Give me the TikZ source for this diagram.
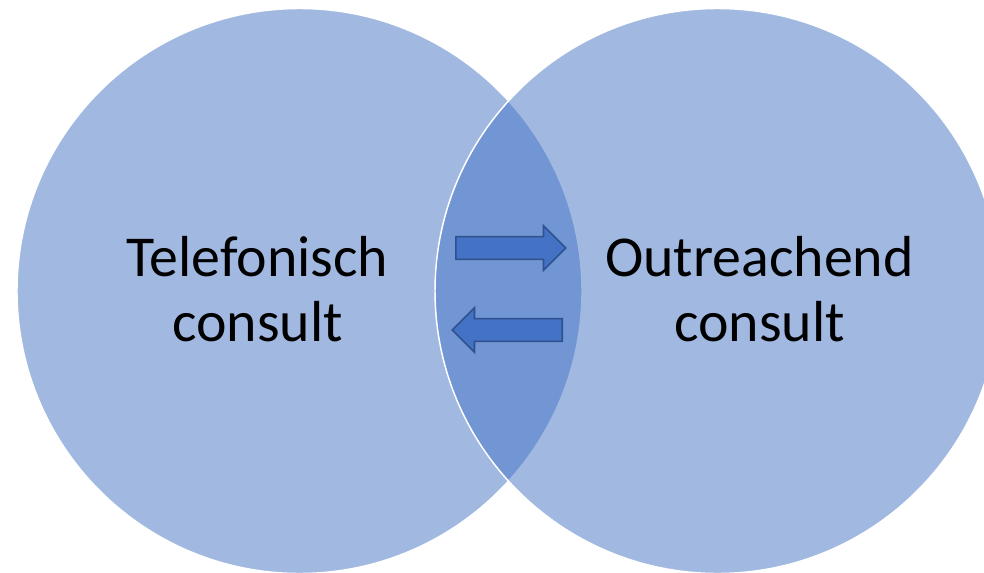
\documentclass[tikz,border=0pt]{standalone}
\usepackage{fontspec}
\setmainfont{Carlito}
\usetikzlibrary{shapes.arrows}
\definecolor{vennblue}{HTML}{4472C4}
\definecolor{arrowedge}{HTML}{2F528F}

\begin{document}
\begin{tikzpicture}[x=0.75pt,y=0.75pt,
	venn/.style={shape=circle,draw=white,line width=1.1pt,fill=vennblue,fill opacity=0.5,minimum size=423.75pt,inner sep=0pt},
	venntext/.style={align=center,font=\fontsize{43.4}{48.75}\selectfont,text=black},
	swaparrow/.style={shape=single arrow,draw=arrowedge,line width=1.2pt,fill=vennblue,inner xsep=0pt,inner ysep=7.9pt,minimum height=82.5pt,minimum width=0pt,single arrow head extend=8.25pt,anchor=tail}]
	\useasboundingbox (0,0) rectangle (984,572);

	\node[venn] (tel) at (299.5,281) {};
	\node[venn] (out) at (717.5,281) {};

	\node[swaparrow] (naar) at (455,324) {};
	\node[swaparrow,shape border rotate=180] (terug) at (563,242) {};

	\node[venntext] (teltext) at (257.5,283) {Telefonisch\\consult};
	\node[venntext] (outtext) at (759.5,283) {Outreachend\\consult};
\end{tikzpicture}
\end{document}
